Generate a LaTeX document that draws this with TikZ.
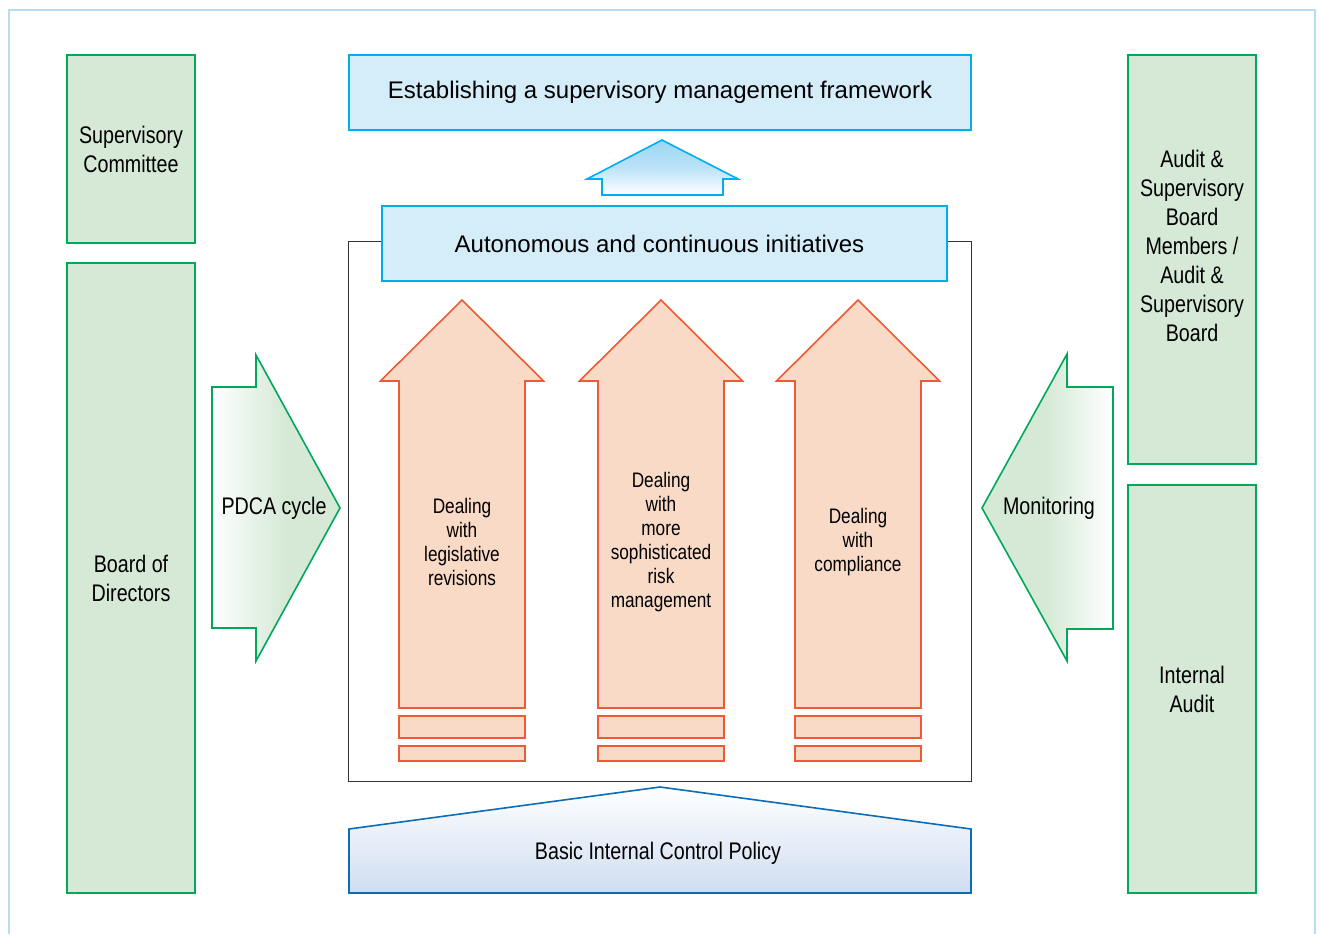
\documentclass[tikz,border=0pt]{standalone}
\usepackage{fontspec}
\setmainfont{Liberation Sans}
\newfontfamily\narrowfont[FakeStretch=0.82]{Liberation Sans}
\usetikzlibrary{positioning,calc}
\definecolor{edgeblue}{HTML}{B5DDF5}
\definecolor{grline}{HTML}{00A85A}
\definecolor{grfill}{HTML}{D5E9D6}
\definecolor{blline}{HTML}{00AEEF}
\definecolor{blfill}{HTML}{D5ECF9}
\definecolor{bltop}{HTML}{9DD6F3}
\definecolor{orline}{HTML}{EC5B35}
\definecolor{orfill}{HTML}{F9DAC6}
\definecolor{dkblue}{HTML}{0B6DB7}
\definecolor{polbot}{HTML}{CFDDF0}
\tikzset{
    greenbox/.style={draw=grline, fill=grfill, line width=2pt, minimum width=128pt, inner sep=0pt,
        align=center, font=\narrowfont\fontsize{24}{29}\selectfont},
    gtext/.style={align=center, inner sep=0pt, font=\narrowfont\fontsize{24}{29}\selectfont},
    bluebox/.style={draw=blline, fill=blfill, line width=2pt, minimum height=75pt, inner sep=0pt,
        font=\fontsize{24}{29}\selectfont},
    orarrow/.style={draw=orline, fill=orfill, line width=1.6pt},
    artext/.style={align=center, inner sep=0pt, font=\narrowfont\fontsize{21}{24}\selectfont},
    greenarrow/.style={draw=grline, line width=1.6pt}
}

\begin{document}
\begin{tikzpicture}[x=1pt, y=-1pt]
    \useasboundingbox (0,0) rectangle (1319,934);
    \draw[edgeblue, line width=2pt] (9,934) -- (9,10) -- (1315,10) -- (1315,934);

    % left and right bodies
    \node[greenbox, minimum height=188pt] (SC) at (131,149) {Supervisory\\Committee};
    \node[greenbox, minimum height=630pt, below=18pt of SC] (BoD) {Board of\\Directors};
    \node[greenbox, minimum height=409pt] (ASB) at (1192,259.5) {};
    \node[gtext] (ASBt) at ([yshift=14pt]ASB.center) {Audit \&\\Supervisory\\Board\\Members /\\Audit \&\\Supervisory\\Board};
    \node[greenbox, minimum height=408pt, below=19pt of ASB] (IA) {Internal\\Audit};

    % centre frame and top boxes
    \draw[black!80, line width=0.8pt] (348,241) rectangle (971,781);
    \node[bluebox, minimum width=622pt] (EF) at (660,92.5) {Establishing a supervisory management framework};
    \node[bluebox, minimum width=565pt] (AI) at (664.5,243.5) {};
    \node[font=\fontsize{24}{29}\selectfont, inner sep=0pt] (AIt) at ([xshift=-5pt]AI.center) {Autonomous and continuous initiatives};
    \draw[draw=blline, line width=1.6pt, top color=bltop, bottom color=white, middle color=bltop!70]
        (602,195) -- (602,179) -- (587,179) -- (662,140) -- (738,179) -- (723,179) -- (723,195) -- cycle;

    % three upward arrows
    \foreach \cx/\tn/\txt in {462/legis/{Dealing\\with\\legislative\\revisions},
                              661/risk/{Dealing\\with\\more\\sophisticated\\risk\\management},
                              858/compl/{Dealing\\with\\compliance}} {
        \draw[orarrow] (\cx-63,708) -- (\cx-63,381) -- (\cx-81.5,381) -- (\cx,300)
            -- (\cx+81.5,381) -- (\cx+63,381) -- (\cx+63,708) -- cycle;
        \draw[orarrow] (\cx-63,716) rectangle (\cx+63,738);
        \draw[orarrow] (\cx-63,746) rectangle (\cx+63,761);
        \node[artext] (\tn) at (\cx,542) {\txt};
    }

    % side arrows
    \begin{scope}
        \clip (212,387) -- (256,387) -- (256,355) -- (340,508) -- (256,661) -- (256,628) -- (212,628) -- cycle;
        \fill[grfill] (200,340) rectangle (350,670);
        \fill[left color=white, right color=grfill] (212,340) rectangle (285,670);
    \end{scope}
    \draw[greenarrow] (212,387) -- (256,387) -- (256,355) -- (340,508) -- (256,661) -- (256,628) -- (212,628) -- cycle;
    \node[gtext] (PDCA) at (274,508) {PDCA cycle};
    \begin{scope}
        \clip (1113,387) -- (1067,387) -- (1067,354) -- (982,508) -- (1067,661) -- (1067,629) -- (1113,629) -- cycle;
        \fill[grfill] (970,340) rectangle (1120,670);
        \fill[left color=grfill, right color=white] (1045,340) rectangle (1113,670);
    \end{scope}
    \draw[greenarrow] (1113,387) -- (1067,387) -- (1067,354) -- (982,508) -- (1067,661) -- (1067,629) -- (1113,629) -- cycle;
    \node[gtext] (Mon) at (1049,508) {Monitoring};

    % base
    \draw[draw=dkblue, line width=1.6pt, top color=white, bottom color=polbot]
        (349,893) -- (349,829) -- (660,787) -- (971,829) -- (971,893) -- cycle;
    \node[gtext] (BICP) at (658,853) {Basic Internal Control Policy};
\end{tikzpicture}
\end{document}
